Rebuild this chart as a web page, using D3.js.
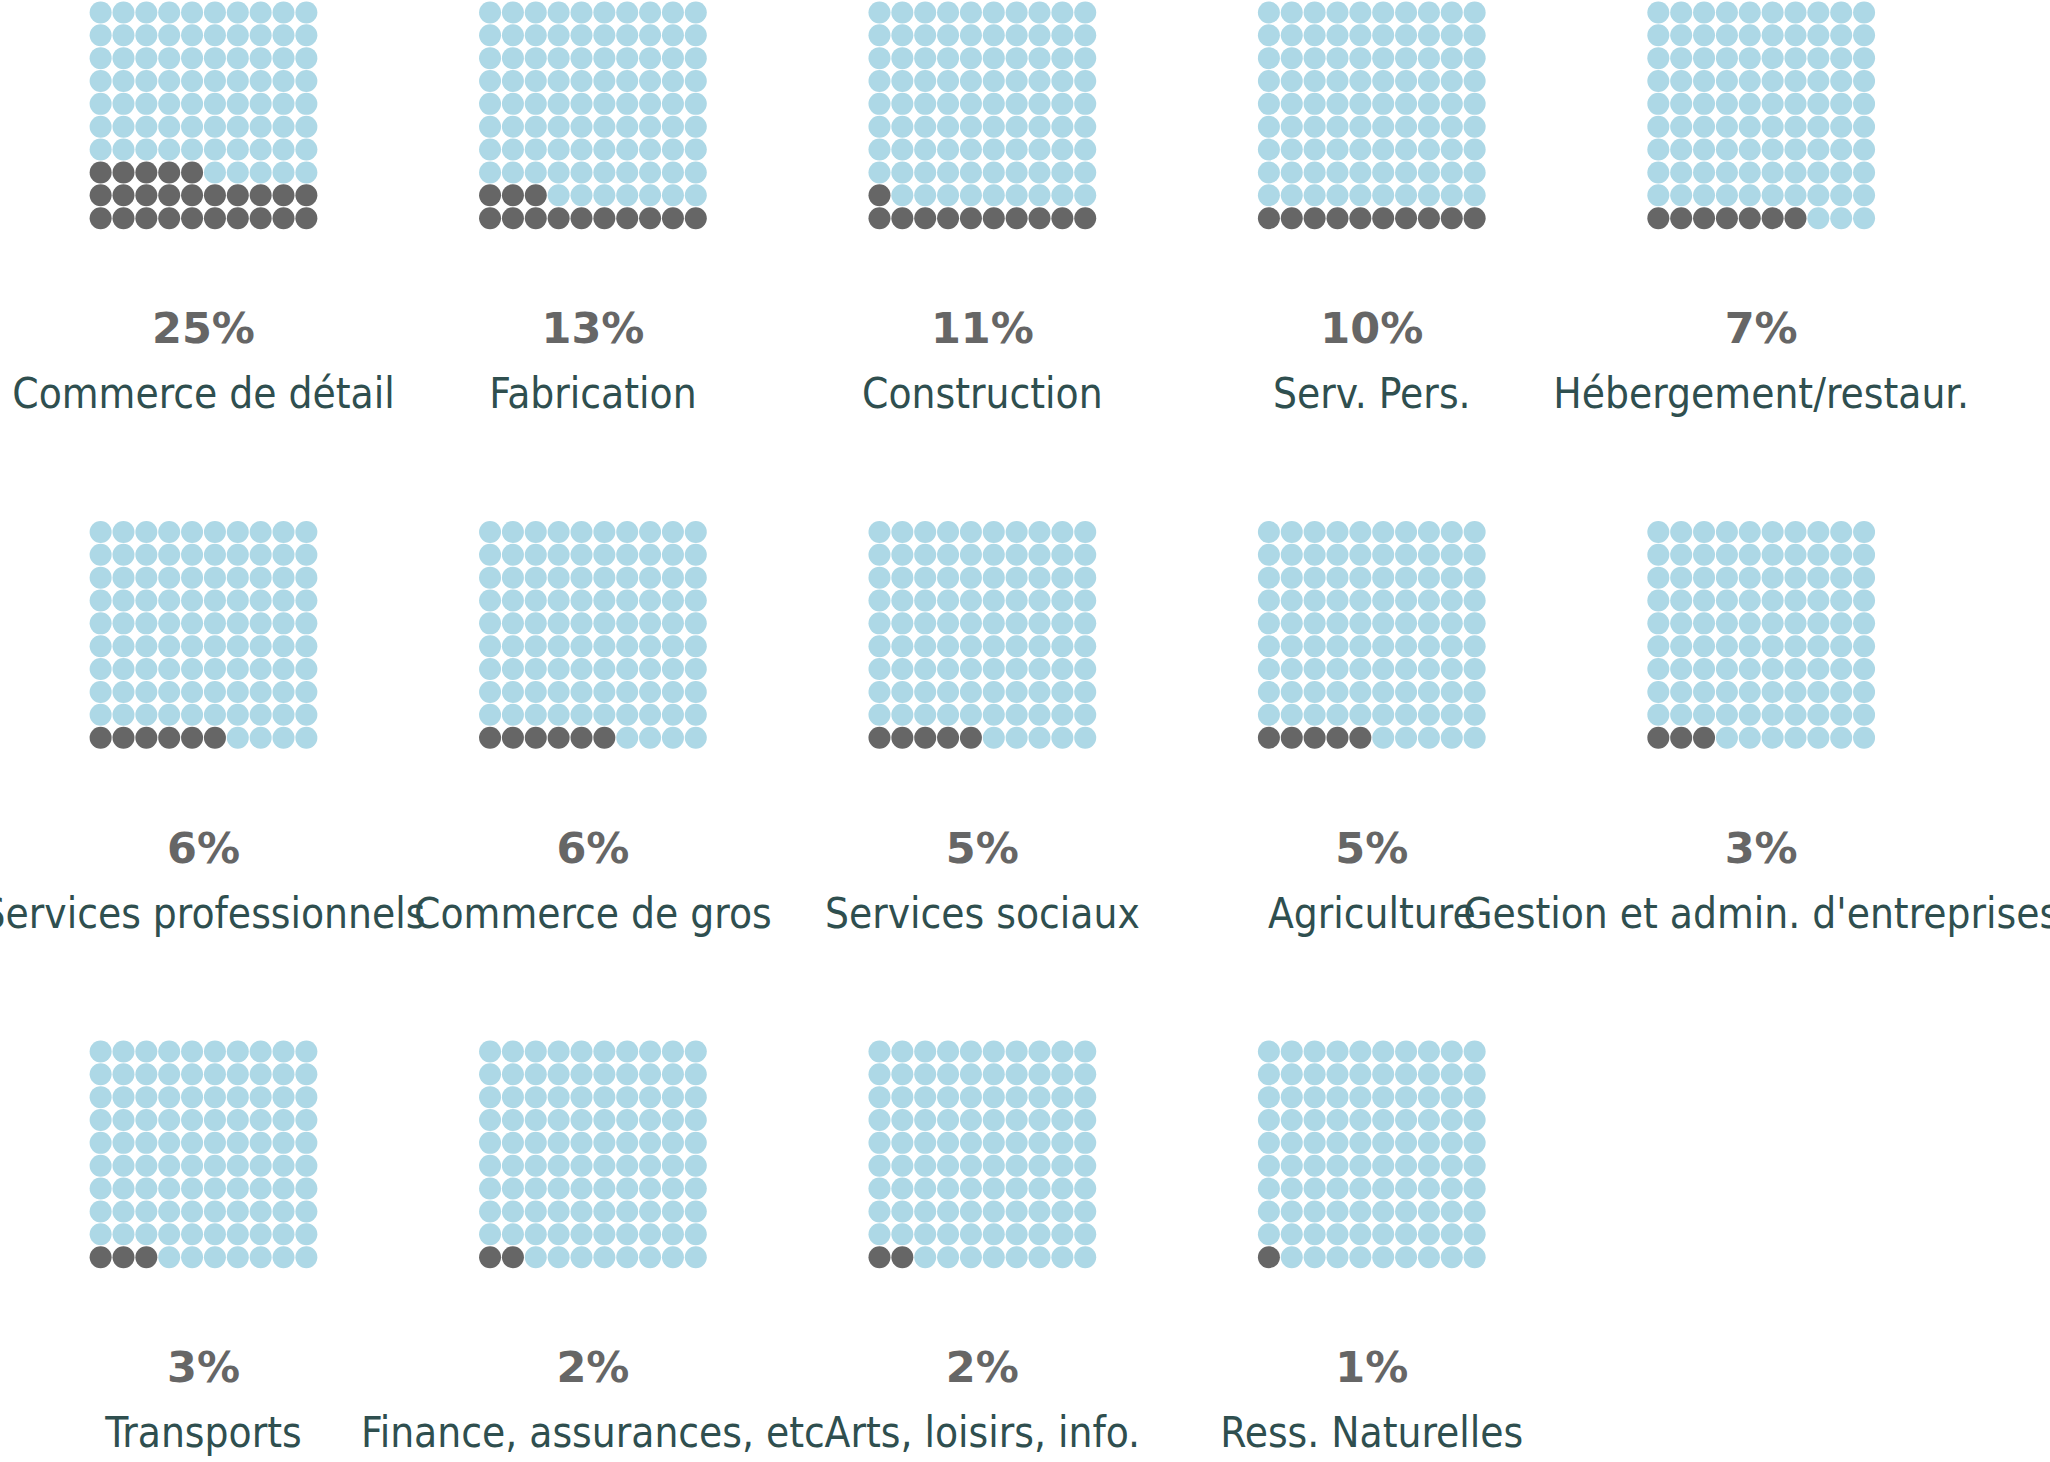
<!DOCTYPE html>
<html>
<head>
<meta charset="utf-8">
<script src="https://cdn.jsdelivr.net/npm/d3@7"></script>
<style>
  body { margin: 0; background: #fff; }
  .pct { font-family: "DejaVu Sans", sans-serif; font-weight: bold; fill: #666666; }
  .label { font-family: "DejaVu Sans Condensed", "DejaVu Sans", sans-serif; font-stretch: condensed; fill: #2f4f4f; }
</style>
</head>
<body>
<div id="wrapper"></div>
<script>
// sectors, in reading order (5 per row)
const sectors = [
  "Commerce de détail", "Fabrication", "Construction", "Serv. Pers.", "Hébergement/restaur.",
  "Services professionnels", "Commerce de gros", "Services sociaux", "Agriculture", "Gestion et admin. d'entreprises",
  "Transports", "Finance, assurances, etc", "Arts, loisirs, info.", "Ress. Naturelles"
];
// share of businesses, percent
const shares = [25, 13, 11, 10, 7, 6, 6, 5, 5, 3, 3, 2, 2, 1];

const COLS = 5;
const GRID = 10; // 10 x 10 dots = 100%

const dimensions = {
  width: 2050,
  height: 1462,
  gridSize: 228.6,
  dotRadius: 11,
  pctOffset: 342.3,
  labelOffset: 407.3,
};

const wrapper = d3.select("#wrapper")
  .append("svg")
    .attr("width", dimensions.width)
    .attr("height", dimensions.height);

// position of each small multiple (center x, top y)
const colScale = d3.scaleLinear().domain([0, COLS - 1]).range([203.5, 1761.2]);
const rowScale = d3.scaleLinear().domain([0, 2]).range([1, 1040]);

// dots inside one grid
const dotScale = d3.scaleBand()
  .domain(d3.range(GRID))
  .range([0, dimensions.gridSize]);

const data = sectors.map((name, i) => ({ name, value: shares[i], col: i % COLS, row: Math.floor(i / COLS) }));

const panels = wrapper.selectAll(".panel")
  .data(data)
  .join("g")
    .attr("class", "panel")
    .attr("transform", d => `translate(${colScale(d.col)}, ${rowScale(d.row)})`);

// fill from bottom-left, left to right, row by row upward
panels.selectAll("circle")
  .data(d => d3.range(GRID * GRID).map(k => ({ k, filled: k < d.value })))
  .join("circle")
    .attr("cx", d => dotScale(d.k % GRID) - dimensions.gridSize / 2 + dotScale.bandwidth() / 2)
    .attr("cy", d => dotScale(GRID - 1 - Math.floor(d.k / GRID)) + dotScale.bandwidth() / 2)
    .attr("r", dimensions.dotRadius)
    .attr("fill", d => d.filled ? "#666666" : "#add8e6");

panels.append("text")
  .attr("class", "pct")
  .attr("text-anchor", "middle")
  .attr("y", dimensions.pctOffset)
  .style("font-size", "43px")
  .text(d => d.value + "%");

panels.append("text")
  .attr("class", "label")
  .attr("text-anchor", "middle")
  .attr("y", dimensions.labelOffset)
  .style("font-size", "42px")
  .text(d => d.name);
</script>
</body>
</html>
